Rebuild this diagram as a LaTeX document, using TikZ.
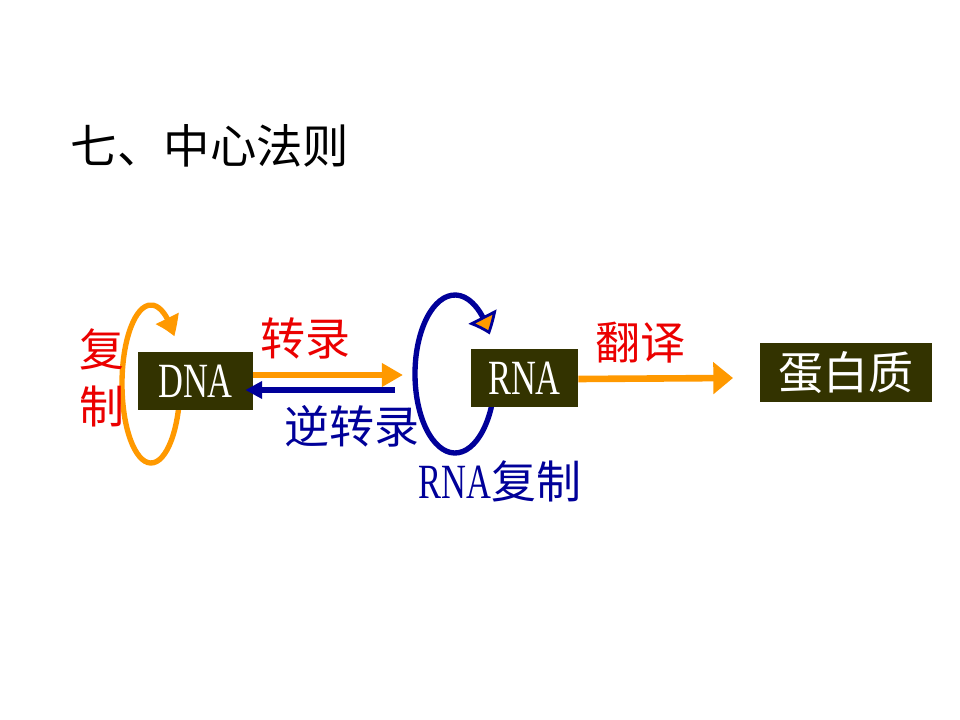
\documentclass[tikz,border=0pt]{standalone}
\usepackage{fontspec}
\usepackage{graphicx}
\setmainfont{Liberation Serif}
\newfontfamily\cjk{Noto Sans CJK SC}
\usetikzlibrary{arrows.meta,bending,positioning,calc}

\definecolor{slideorange}{RGB}{255,153,0}
\definecolor{slideblue}{RGB}{0,0,153}
\definecolor{slidered}{RGB}{235,0,0}
\definecolor{boxolive}{RGB}{51,51,0}

\newcommand{\lat}[1]{\scalebox{0.7}[1]{#1}}

\begin{document}
\begin{tikzpicture}[
    x=0.025cm, y=0.025cm,
    box/.style={fill=boxolive, text=white, inner sep=0pt, minimum height=1.45cm, font=\fontsize{35}{40}\selectfont},
    title/.style={font=\cjk\fontsize{33}{38}\selectfont, text=black},
    redlabel/.style={font=\cjk\fontsize{32}{40}\selectfont, text=slidered, align=center},
    bluelabel/.style={font=\cjk\fontsize{32}{40}\selectfont, text=slideblue},
    flow/.style={line width=4.7pt},
    loopline/.style={line width=3.8pt},
]
\useasboundingbox[fill=white] (0,0) rectangle (960,-720);

\node[title] (title) at (210,-146) {七、中心法则};

% loop centres and free arrow ends
\coordinate (dnaloop) at (151,-384);
\coordinate (rnaloop) at (455,-374);
\coordinate (txend) at (403,-375);
\coordinate (rtstart) at (395,-390);
\coordinate (tlend) at (733,-378);

% replication loops (behind the boxes)
\draw[loopline, slideorange, -{Triangle[bend, length=14pt, width=17pt]}]
  ($(dnaloop)+(5:29 and 79)$) arc[start angle=365, end angle=37, x radius=29, y radius=79];
\draw[loopline, slideblue, -{Triangle[bend, length=14pt, width=22pt, fill=slideorange, line width=2pt]}]
  ($(rnaloop)+(5:40 and 79)$) arc[start angle=365, end angle=30, x radius=40, y radius=79];

% molecules
\node[box, minimum width=2.875cm] (dna) at (195.5,-381) {\lat{DNA}};
\node[box, minimum width=2.675cm] (rna) at (524.5,-378) {\lat{RNA}};
\node[box, minimum width=4.3cm, minimum height=1.475cm, font=\cjk\fontsize{32}{38}\selectfont] (protein) at (846,-372.5) {蛋白质};

% arrows
\draw[flow, slideorange, -{Triangle[length=15pt, width=16pt]}] ($(dna.east)+(0,6)$) -- (txend);
\draw[flow, slideblue, -{Triangle[length=12pt, width=12pt]}] (rtstart) -- ($(dna.east)+(-8,-9)$);
\draw[flow, slideorange, -{Triangle[length=14pt, width=22pt]}] ($(rna.east)+(0,-1)$) -- (tlend);

% labels
\node[redlabel] (fuzhi) at (102,-378) {复\\制};
\node[redlabel] (zhuanlu) at (305,-338) {转录};
\node[bluelabel] (nizhuanlu) at (352,-426) {逆转录};
\node[bluelabel] (rnafuzhi) at (500,-481) {{\rmfamily\fontsize{35}{40}\selectfont\lat{RNA}}复制};
\node[redlabel] (fanyi) at (640,-343) {翻译};

\end{tikzpicture}
\end{document}
